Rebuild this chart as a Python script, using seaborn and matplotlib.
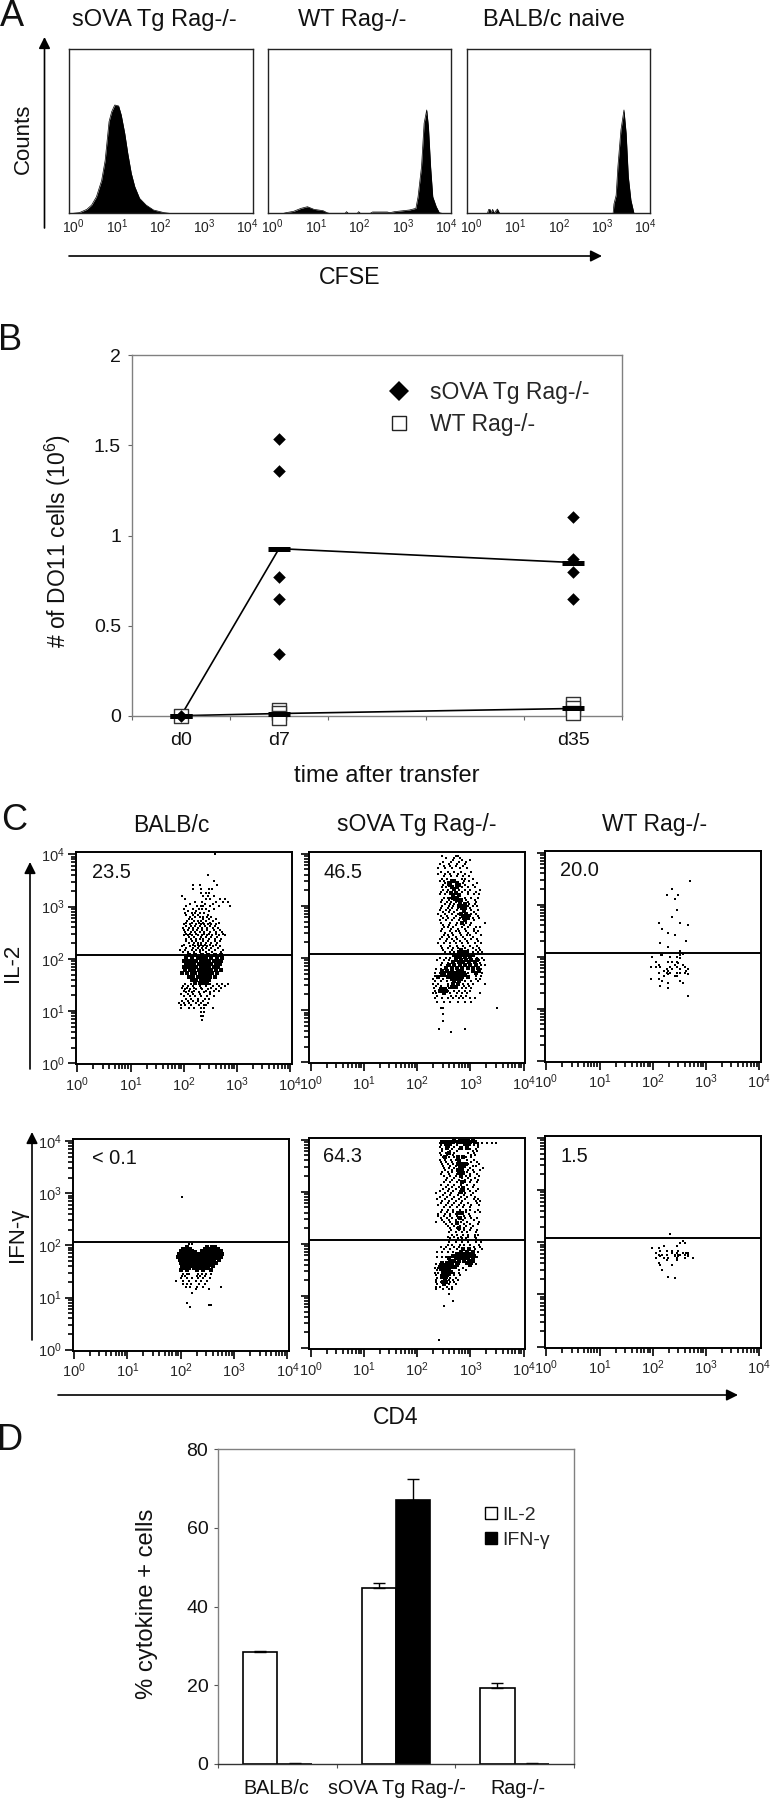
import numpy as np
import pandas as pd
import matplotlib
matplotlib.use("Agg")
import matplotlib.pyplot as plt
from matplotlib.lines import Line2D
from matplotlib.patches import Patch
from matplotlib.ticker import LogLocator, NullFormatter, FixedLocator
import seaborn as sns

sns.set_theme(style="white")
REG = ["Liberation Sans", "DejaVu Sans"]
plt.rcParams["font.family"] = REG
plt.rcParams["mathtext.default"] = "regular"

W, H = 776, 1800

# ---- A: CFSE histograms (log10 CFSE, fraction of the panel height)
a1_x = [0.0, 0.14, 0.31, 0.42, 0.53, 0.65, 0.73, 0.82, 0.88, 0.95, 1.04, 1.10, 1.18, 1.25, 1.33, 1.41, 1.52, 1.67, 1.84, 2.08, 2.2]
a1_y = [0.0, 0.004, 0.024, 0.05, 0.10, 0.20, 0.32, 0.557, 0.617, 0.658, 0.652, 0.597, 0.486, 0.364, 0.243, 0.162, 0.091, 0.05, 0.02, 0.004, 0.0]
a2_x = [0.25, 0.31, 0.48, 0.65, 0.80, 0.95, 1.16, 1.25, 1.30, 1.67, 1.70, 1.74, 1.95, 1.98, 2.02, 2.25, 2.30, 2.64, 2.70, 2.81, 3.15, 3.30, 3.35, 3.43, 3.49, 3.55, 3.59, 3.64, 3.69, 3.77, 3.84, 3.9]
a2_y = [0.0, 0.004, 0.012, 0.03, 0.04, 0.024, 0.016, 0.004, 0.0, 0.0, 0.01, 0.0, 0.0, 0.01, 0.0, 0.0, 0.008, 0.008, 0.004, 0.01, 0.02, 0.03, 0.10, 0.283, 0.547, 0.628, 0.526, 0.283, 0.10, 0.04, 0.004, 0.0]
a3_x = [0.36, 0.39, 0.42, 0.44, 0.48, 0.51, 0.59, 0.64, 3.25, 3.27, 3.32, 3.36, 3.43, 3.50, 3.55, 3.60, 3.66, 3.73]
a3_y = [0.0, 0.024, 0.024, 0.0, 0.024, 0.0, 0.026, 0.0, 0.0, 0.057, 0.11, 0.283, 0.506, 0.628, 0.486, 0.223, 0.08, 0.0]
a_titles = ["sOVA Tg Rag-/-", "WT Rag-/-", "BALB/c naive"]

# ---- B: number of DO11 cells
b_days = ["d0", "d7", "", "", "d35"]
b_sova_pos = [0, 1, 1, 1, 1, 1, 4, 4, 4, 4]
b_sova_val = [0.0, 1.536, 1.36, 0.77, 0.65, 0.34, 1.105, 0.868, 0.80, 0.645]
b_wt_pos = [0, 1, 1, 1, 4, 4, 4]
b_wt_val = [0.0, 0.03, 0.013, -0.01, 0.065, 0.04, 0.013]
b_mean_pos = [0, 1, 4]
b_sova_mean = [0.0, 0.927, 0.85]
b_wt_mean = [0.0, 0.012, 0.04]

# ---- C: dot plots, (log10 cytokine, [log10 CD4, ...]) rows
c1_dots = [(4.00,[2.59]),(3.60,[2.45]),(3.49,[2.56]),(3.41,[2.18,2.31,2.63]),(3.34,[2.18,2.33,2.47,2.53]),
 (3.27,[2.33,2.42,2.48]),(3.20,[1.97,2.36,2.46,2.57]),(3.14,[2.03,2.42,2.49,2.69,2.77]),(3.08,[2.22,2.35,2.60,2.73,2.83]),
 (3.02,[2.05,2.25,2.32,2.37,2.50,2.66,2.87]),(2.96,[2.01,2.17,2.28,2.35,2.42,2.56]),(2.88,[2.02,2.15,2.21,2.30,2.38]),
 (2.80,[2.12,2.22,2.30,2.36,2.44,2.52]),(2.73,[2.07,2.19,2.27,2.33,2.41,2.55]),(2.66,[2.00,2.11,2.23,2.32,2.38,2.46,2.52,2.61]),
 (2.59,[1.99,2.09,2.18,2.26,2.35,2.44,2.55,2.64]),(2.52,[2.03,2.13,2.21,2.30,2.38,2.50,2.60,2.72]),
 (2.45,[2.00,2.08,2.16,2.27,2.34,2.43,2.53,2.66,2.78]),(2.38,[2.04,2.14,2.23,2.30,2.37,2.48,2.58,2.70]),
 (2.31,[2.10,2.19,2.26,2.33,2.41,2.52,2.63]),(2.24,[1.97,2.12,2.21,2.29,2.36,2.44,2.55,2.68]),
 (2.17,[1.93,2.03,2.15,2.24,2.31,2.37,2.47,2.58,2.74]),(1.48,[1.98,2.08,2.18,2.30,2.42,2.55,2.66,2.78]),
 (1.42,[2.02,2.12,2.24,2.35,2.46,2.60]),(1.36,[2.05,2.15,2.28,2.38,2.50]),(1.28,[2.00,2.12,2.22,2.32,2.44,2.56]),
 (1.20,[1.97,2.08,2.18,2.27,2.36]),(1.12,[1.95,2.03,2.14,2.28,2.38,2.42]),(1.05,[1.95,2.10,2.20,2.33,2.38,2.55]),
 (0.98,[2.32,2.38]),(0.90,[2.33,2.36]),(0.83,[2.35]),
 (3.05,[2.12,2.40,2.55]),(2.92,[2.08,2.24,2.48]),(2.84,[2.05,2.18,2.26,2.46]),(2.76,[2.10,2.16,2.36,2.48,2.60]),
 (2.69,[2.05,2.15,2.28,2.36,2.50,2.66]),(2.62,[2.04,2.14,2.22,2.30,2.40,2.50,2.58]),(2.55,[2.00,2.08,2.17,2.25,2.34,2.44,2.56,2.68]),
 (2.48,[2.05,2.12,2.24,2.38,2.48,2.60,2.74]),(2.41,[2.09,2.20,2.32,2.41,2.52,2.62]),(2.34,[2.05,2.15,2.24,2.36,2.45,2.58,2.68]),
 (2.27,[2.00,2.17,2.26,2.32,2.40,2.50,2.60]),(2.20,[2.05,2.18,2.27,2.34,2.42,2.52,2.64]),(2.13,[1.98,2.08,2.20,2.30,2.42,2.54,2.70]),
 (1.51,[2.02,2.14,2.50,2.62,2.72,2.84]),(1.45,[1.96,2.06,2.20,2.32,2.52,2.70]),(1.39,[2.00,2.10,2.20,2.42,2.56,2.66]),
 (1.32,[1.94,2.08,2.18,2.30,2.50]),(1.24,[2.04,2.14,2.26,2.40,2.48]),(1.16,[1.92,2.00,2.10,2.24,2.32,2.46])]
c1_core = [(2.08,[2.10,2.22,2.34,2.46,2.58,2.70]),(2.02,[2.04,2.15,2.26,2.34,2.42,2.52,2.62,2.72]),
 (1.96,[2.00,2.08,2.16,2.24,2.32,2.40,2.48,2.56,2.64,2.70]),(1.90,[2.04,2.12,2.20,2.28,2.36,2.44,2.52,2.60,2.68]),
 (1.84,[2.00,2.08,2.16,2.24,2.32,2.40,2.48,2.56,2.64]),(1.78,[2.03,2.12,2.20,2.28,2.36,2.44,2.52,2.60,2.70]),
 (1.72,[1.97,2.06,2.15,2.22,2.30,2.38,2.46,2.54,2.62]),(1.66,[2.10,2.18,2.26,2.34,2.42,2.50,2.58]),
 (1.60,[2.16,2.24,2.32,2.40,2.48]),(1.54,[2.22,2.30,2.36,2.44])]

c2_dots = [(3.95,[2.47,2.72,2.76]),(3.88,[2.68,2.85,3.00]),(3.80,[2.42,2.60,2.74,2.90]),(3.73,[2.40,2.53,2.66,2.81,2.93]),
 (3.66,[2.44,2.58,2.70,2.83,3.02]),(3.58,[2.50,2.64,2.74,2.86,2.97]),(3.52,[2.46,2.56,2.84,2.90,3.05]),
 (3.44,[2.52,2.60,2.86,3.12]),(3.36,[2.46,2.55,2.84,2.96,3.08]),(3.30,[2.48,2.58,2.78,2.90,3.00,3.18]),
 (3.22,[2.42,2.52,2.80,2.95,3.06,3.16]),(3.16,[2.50,2.58,2.62,2.90,3.02,3.14]),(3.08,[2.44,2.56,2.64,2.72,2.96,3.10]),
 (3.00,[2.46,2.60,2.68,2.96,3.04,3.12]),(2.92,[2.42,2.54,2.62,2.74,3.02,3.14]),(2.84,[2.40,2.52,2.66,2.76,3.02,3.10]),
 (2.76,[2.48,2.58,2.70,2.80,3.04,3.16]),(2.68,[2.44,2.62,2.74,2.92,3.02,3.28]),(2.60,[2.50,2.58,2.68,2.84,2.96,3.10,3.18]),
 (2.52,[2.44,2.62,2.72,2.78,2.92,3.06,3.14]),(2.44,[2.50,2.58,2.68,2.82,2.94,3.00,3.20]),(2.36,[2.42,2.56,2.66,2.74,2.90,3.02,3.12]),
 (2.28,[2.40,2.50,2.62,2.72,2.84,2.96,3.08,3.20]),(2.20,[2.46,2.58,2.68,2.76,2.90,3.04,3.16]),
 (2.12,[2.52,2.62,2.70,2.94,3.04,3.14,3.22]),(1.96,[2.38,2.50,2.60,3.16,3.25]),(1.86,[2.44,2.56,3.20,3.28]),
 (1.72,[2.34,2.42,2.96,3.22]),(1.60,[2.30,2.48,3.10,3.18]),(1.50,[2.30,2.40,2.58,2.86,2.96,3.05,3.28]),
 (1.42,[2.32,2.60,2.84,2.92,3.02]),(1.32,[2.30,2.36,2.62,2.74,2.84,2.94,3.18]),(1.24,[2.34,2.46,2.58,2.68,2.78,2.86,3.00,3.08]),
 (1.16,[2.38,2.50,2.62,2.76,2.90,3.02]),(1.05,[2.44,2.48,3.50]),(0.92,[2.48]),(0.80,[2.48]),(0.64,[2.41,2.90]),(0.59,[2.64]),
 (3.91,[2.55,2.70,2.80]),(3.84,[2.48,2.64,2.78,2.92]),(3.76,[2.50,2.62,2.72,2.86]),(3.62,[2.40,2.52,2.62,2.76,2.90]),
 (3.48,[2.42,2.50,2.88,2.98]),(3.40,[2.48,2.58,2.90,3.04]),(3.26,[2.44,2.56,2.84,2.96,3.10]),(3.12,[2.46,2.60,2.70,2.92,3.08]),
 (3.04,[2.52,2.62,2.70,2.98,3.08]),(2.96,[2.44,2.58,2.66,2.76,3.00]),(2.88,[2.48,2.60,2.70,3.06]),(2.80,[2.44,2.56,2.72,3.00,3.14]),
 (2.72,[2.42,2.54,2.66,2.78,3.06]),(2.64,[2.48,2.60,2.72,2.88,3.00]),(2.56,[2.46,2.64,2.76,2.90,3.06]),(2.48,[2.52,2.66,2.80,2.96,3.10]),
 (2.40,[2.46,2.60,2.72,2.86,3.04]),(2.32,[2.54,2.70,2.80,2.94,3.14]),(2.24,[2.44,2.62,2.74,2.86,3.00,3.12]),(2.16,[2.48,2.66,2.96,3.10,3.18]),
 (2.08,[2.44,2.56,2.64,3.08,3.18]),(2.00,[2.42,2.54,2.62,3.12,3.22]),(1.90,[2.46,2.58,3.18]),(1.78,[2.36,2.44,3.20]),(1.66,[2.34,2.52,3.10,3.20]),
 (1.56,[2.34,2.44,2.56,2.90,3.02,3.14]),(1.46,[2.36,2.44,2.58,2.88,2.98]),(1.36,[2.34,2.58,2.70,2.78,2.90,3.00]),(1.28,[2.38,2.64,2.72,2.82,2.92])]
c2_core = [(3.47,[2.65,2.70]),(3.40,[2.62,2.78]),(3.33,[2.70]),(3.25,[2.63,2.72]),(3.15,[2.68,2.75]),(3.08,[2.80]),(3.00,[2.85,2.78]),
 (2.90,[2.88]),(2.84,[2.82,2.92]),(2.76,[2.88,2.95]),(2.68,[2.85]),(2.15,[2.83]),(2.08,[2.78,2.88]),(2.01,[2.72,2.80,2.90,3.00]),
 (1.92,[2.68,2.78,2.86,2.98,3.08]),(1.80,[2.55,2.66,2.75,2.84,2.95,3.05,3.15]),(1.72,[2.50,2.60,2.70,2.80,2.88,3.10]),
 (1.64,[2.40,2.58,2.68,2.76,2.84,2.95]),(1.55,[2.70,2.78]),(1.44,[2.66,2.72]),(1.37,[2.42,2.48,2.54]),(1.32,[2.50]),
 (3.44,[2.60,2.75]),(3.36,[2.66,2.74]),(3.20,[2.68,2.78]),(3.12,[2.74,2.82]),(3.04,[2.80,2.90]),(2.96,[2.84,2.90]),(2.80,[2.86,2.96]),(2.72,[2.90]),
 (2.12,[2.78,2.86,2.94]),(2.05,[2.70,2.84,2.94,3.04]),(1.96,[2.72,2.82,2.92,3.02,3.12]),(1.86,[2.60,2.70,2.80,2.90,3.00,3.10]),
 (1.76,[2.46,2.56,2.66,2.76,2.84,3.04,3.16]),(1.68,[2.46,2.64,2.72,2.80,2.90]),(1.60,[2.66,2.74,2.82]),(1.50,[2.68,2.76]),(1.41,[2.45,2.52])]

c3_x = [2.71,2.37,2.48,2.26,2.41,2.45,2.37,2.11,2.52,2.67,2.18,2.29,2.41,2.63,2.14,2.29,2.52,2.16,2.18,2.56,1.99,2.52,2.33,2.45,2.52,2.07,2.11,1.96,2.07,2.14,2.29,2.37,2.45,2.48,2.56,2.60,2.67,2.41,2.33,2.26,2.22,2.29,2.37,2.45,2.52,2.63,2.11,2.26,2.33,2.45,2.52,2.60,2.67,2.22,2.29,2.41,2.45,1.96,2.11,2.18,2.52,2.56,2.29,2.14,2.29,2.67]
c3_y = [3.46,3.30,3.18,3.18,3.11,2.89,2.76,2.65,2.65,2.61,2.54,2.46,2.42,2.31,2.27,2.19,2.11,2.04,2.04,2.06,2.00,2.04,2.00,2.00,1.98,1.89,1.85,1.81,1.81,1.81,1.89,1.89,1.89,1.87,1.85,1.81,1.77,1.85,1.81,1.77,1.73,1.73,1.77,1.81,1.77,1.73,1.69,1.69,1.69,1.69,1.69,1.69,1.66,1.62,1.66,1.62,1.62,1.58,1.58,1.54,1.54,1.50,1.50,1.43,1.39,1.24]

c4_dots = [(2.93,[2.03]),(2.03,[2.15,2.22]),(1.38,[2.00,2.12,2.22,2.32,2.42,2.55]),(1.32,[1.92,2.05,2.16,2.28,2.38,2.50]),
 (1.26,[2.04,2.12,2.20,2.34,2.46]),(1.20,[2.10,2.18,2.30,2.42,2.75]),(1.16,[2.29,2.53]),(1.09,[2.22]),(0.89,[2.12]),(0.85,[2.53,2.56]),(0.82,[2.18]),
 (1.46,[2.04,2.12,2.16,2.32,2.40,2.48,2.56]),(1.42,[2.02,2.08,2.30,2.36,2.46])]
c4_core = [(1.96,[2.12,2.50,2.58,2.65]),(1.90,[2.00,2.08,2.15,2.22,2.40,2.48,2.58,2.68,2.76]),(1.84,[1.96,2.04,2.12,2.20,2.28,2.36,2.44,2.52,2.60,2.70,2.78]),
 (1.78,[1.94,2.02,2.10,2.18,2.26,2.34,2.42,2.50,2.58,2.66,2.76]),(1.72,[1.98,2.06,2.14,2.22,2.30,2.38,2.46,2.54,2.62,2.72]),
 (1.66,[2.00,2.08,2.16,2.24,2.32,2.40,2.48,2.56,2.66]),(1.60,[2.02,2.10,2.18,2.26,2.34,2.44,2.52,2.60]),(1.52,[2.00,2.12,2.30,2.42,2.56]),
 (1.93,[2.04,2.10,2.18,2.46,2.54,2.62,2.70]),(1.87,[2.00,2.10,2.18,2.26,2.44,2.52,2.62,2.72]),(1.81,[1.98,2.06,2.14,2.22,2.30,2.38,2.46,2.54,2.64,2.74]),
 (1.75,[2.00,2.08,2.16,2.24,2.32,2.40,2.48,2.56,2.70]),(1.69,[2.02,2.10,2.18,2.26,2.34,2.42,2.50,2.58]),(1.63,[2.04,2.12,2.20,2.28,2.36,2.46,2.54]),(1.56,[2.06,2.16,2.24,2.38,2.50])]

c5_dots = [(3.94,[2.42,2.48,3.14,3.22,3.32,3.40,3.48]),(3.86,[2.42,2.60,2.70,3.14]),(3.78,[2.46,2.62,2.74,3.04,3.12]),(3.70,[2.44,2.56,2.68,3.02,3.08]),
 (3.62,[2.42,2.52,2.64,2.72,2.94,3.06]),(3.54,[2.46,2.58,2.68,2.96,3.16]),(3.46,[2.50,2.60,2.70,3.00,3.24]),(3.38,[2.46,2.58,2.66,2.94,3.06]),
 (3.30,[2.50,2.62,2.72,2.92,3.00,3.16]),(3.22,[2.54,2.66,2.78,2.90,3.02,3.14]),(3.14,[2.44,2.58,2.70,2.82,2.94,3.06]),(3.06,[2.48,2.60,2.72,2.82,2.96,3.14]),
 (2.98,[2.36,2.52,2.64,2.78,2.90,3.04]),(2.90,[2.42,2.56,2.70,2.82,2.94,3.08]),(2.82,[2.46,2.60,2.72,2.84,3.10,3.18]),(2.74,[2.40,2.54,2.66,2.78,2.88,3.02,3.16]),
 (2.66,[2.46,2.58,2.68,2.80,2.92,3.00,3.14]),(2.58,[2.40,2.52,2.62,2.72,2.86,2.98]),(2.50,[2.44,2.56,2.66,2.76,2.90,3.02,3.12]),(2.42,[2.36,2.50,2.62,2.82,2.94,3.16]),
 (2.34,[2.58,2.70,2.80,2.92,3.04]),(2.26,[2.64,2.78,2.88,3.00,3.12]),(2.18,[2.66,2.74,2.86,2.96,3.08,3.14]),(2.12,[2.62,2.76,2.84,2.92,3.10]),
 (1.98,[2.58,2.66,2.80,2.88,3.00,3.16]),(1.90,[2.50,2.62,2.74,2.84,2.96,3.08,3.22]),(1.50,[2.38,2.62,2.78,2.92]),(1.40,[2.36,2.44,2.62,2.70,2.80]),
 (1.30,[2.36,2.60,2.68,2.76]),(1.22,[2.38,2.60,2.72]),(1.14,[2.36,2.48,2.60,2.66]),(1.04,[2.59]),(0.91,[2.67]),(0.80,[2.51]),(0.15,[2.41]),
 (3.90,[2.44,2.52,2.74,3.06,3.14]),(3.82,[2.46,2.66,2.78,3.00,3.10]),(3.74,[2.42,2.54,2.70,2.96,3.06]),(3.66,[2.48,2.60,2.70,2.92,3.02]),
 (3.58,[2.44,2.54,2.66,3.02,3.12]),(3.50,[2.48,2.62,2.72,3.04,3.10]),(3.42,[2.52,2.66,2.96,3.04,3.18]),(3.34,[2.44,2.60,2.74,3.00,3.12]),
 (3.26,[2.56,2.70,2.84,2.96,3.08]),(3.18,[2.50,2.62,2.74,2.90,3.00,3.12]),(3.10,[2.54,2.66,2.78,2.88,3.04]),(3.02,[2.42,2.58,2.68,2.88,3.00,3.10]),
 (2.94,[2.48,2.62,2.76,2.88,3.02]),(2.86,[2.38,2.52,2.66,2.78,2.90,3.06,3.14]),(2.78,[2.44,2.58,2.70,2.82,2.96,3.12]),(2.70,[2.50,2.62,2.74,2.86,3.00]),
 (2.62,[2.44,2.56,2.68,2.78,2.92,3.08,3.18]),(2.54,[2.40,2.50,2.62,2.74,2.88,3.00]),(2.46,[2.46,2.60,2.72,2.86,3.06]),(2.38,[2.54,2.66,2.76,2.88,3.00,3.14]),
 (2.30,[2.62,2.74,2.88,3.02]),(2.22,[2.60,2.72,2.84,2.94,3.10]),(2.14,[2.58,2.70,2.82,2.96,3.08]),(2.04,[2.60,2.72,2.84,2.96,3.10,3.20]),
 (1.94,[2.44,2.54,2.70,2.78,3.06,3.18]),(1.84,[2.38,2.46,2.58,2.68,3.14]),(1.74,[2.38,2.46,2.54,3.12]),(1.62,[2.36,2.42,3.10]),
 (1.54,[2.34,2.40,2.72,2.86]),(1.44,[2.34,2.40,2.70,2.78]),(1.34,[2.38,2.62,2.72]),(1.26,[2.36,2.44,2.62,2.70]),(1.18,[2.36,2.42,2.56,2.66])]
c5_core = [(3.98,[2.70,2.80,2.88,2.96,3.04]),(3.92,[2.56,2.62,2.90,2.98]),(3.74,[2.60]),(3.60,[2.78]),(3.50,[2.80,2.88]),(3.42,[2.76,2.84]),(3.30,[2.82]),
 (3.08,[2.86]),(2.50,[2.80]),(2.40,[2.74]),(1.84,[2.82,2.94,3.04]),(1.76,[2.68,2.76,2.84,2.92,3.00,3.06]),(1.68,[2.62,2.70,2.78,2.88,2.98,3.04]),(1.60,[2.48,2.58,2.66,2.74,3.00]),
 (1.52,[2.44,2.52,2.60]),(1.40,[2.50,2.56]),(1.30,[2.52]),(1.22,[2.50]),
 (1.90,[2.86,2.98]),(1.80,[2.74,2.84,2.92,3.00]),(1.72,[2.60,2.72,2.80,2.88,2.96,3.04]),(1.64,[2.46,2.56,2.66,2.76,2.94,3.02]),(1.56,[2.42,2.50,2.60,2.68]),
 (1.46,[2.48,2.56,2.64]),(1.36,[2.46,2.54]),(1.26,[2.48,2.54]),(3.96,[2.46,2.54,2.60,2.68,2.76,2.84,2.92,3.00,3.08]),(3.84,[2.56,2.82,2.94]),
 (3.66,[2.52,2.76,2.86]),(3.54,[2.76,2.84,2.92]),(3.36,[2.78,2.86]),(3.18,[2.84]),(3.00,[2.82]),(2.60,[2.76,2.84]),(2.30,[2.78])]

c6_x = [2.33,2.56,2.52,2.60,1.99,2.22,2.11,2.14,2.26,2.37,2.45,2.48,2.45,2.07,2.11,2.18,2.26,2.37,2.41,2.48,2.56,2.63,2.67,2.07,2.14,2.22,2.29,2.41,2.48,2.60,2.67,2.75,2.45,2.60,2.11,2.14,2.26,2.37,2.18,2.29,2.41,2.45,2.52,2.67]
c6_y = [2.15,2.03,1.99,1.99,1.88,1.92,1.88,1.84,1.84,1.84,1.92,1.84,1.80,1.80,1.76,1.76,1.76,1.80,1.76,1.76,1.80,1.80,1.80,1.69,1.73,1.69,1.69,1.73,1.73,1.76,1.73,1.69,1.65,1.69,1.61,1.57,1.65,1.57,1.46,1.34,1.31,1.69,1.76,1.76]

c_gate = 118
c_pct = ["23.5", "46.5", "20.0", "< 0.1", "64.3", "1.5"]
c_titles = ["BALB/c", "sOVA Tg Rag-/-", "WT Rag-/-"]

# ---- D: cytokine positive cells
d_groups = ["BALB/c", "sOVA Tg Rag-/-", "Rag-/-"]
d_il2 = [28.4, 44.8, 19.4]
d_il2_err = [0.3, 1.2, 1.1]
d_ifn = [0.1, 67.1, 0.1]
d_ifn_err = [0.1, 5.2, 0.1]


fig = plt.figure(figsize=(W / 100, H / 100), dpi=100, facecolor="white")


def add_ax(x0, y0, x1, y1, **kw):
    return fig.add_axes([x0 / W, 1 - y1 / H, (x1 - x0) / W, (y1 - y0) / H], **kw)


ov = add_ax(0, 0, W, H, zorder=50)
ov.set_xlim(0, W)
ov.set_ylim(H, 0)
ov.axis("off")
ov.patch.set_alpha(0)


def label(x, y, s, size, rot=0, ha="center", va="center"):
    ov.text(x, y, s, fontsize=size, rotation=rot, ha=ha, va=va, color="#111111")


def arrow(x0, y0, x1, y1, ms=17):
    ov.annotate("", xy=(x1, y1), xytext=(x0, y0),
                arrowprops=dict(arrowstyle="-|>", color="black", lw=1.2, mutation_scale=ms, shrinkA=0, shrinkB=0))


def log_label(e):
    return r"$\mathregular{10^{%d}}$" % e


# ---- Panel A
a_boxes = [(68.5, 48.7, 252.5, 213.3), (268, 48.7, 451, 213.3), (467, 48.7, 650.5, 213.3)]
a_curves = [(a1_x, a1_y), (a2_x, a2_y), (a3_x, a3_y)]
a_title_x = [154, 352, 554]
for box, (xs, ys), tx, title in zip(a_boxes, a_curves, a_title_x, a_titles):
    ax = add_ax(*box)
    sns.lineplot(x=xs, y=ys, ax=ax, color="black", lw=0.5, sort=False, estimator=None)
    ax.fill_between(xs, ys, 0, color="black", lw=0)
    ax.set_xlim(-0.11, 4.11)
    ax.set_ylim(0, 1)
    ax.set_yticks([])
    ax.set_xticks(range(5))
    ax.set_xticklabels([log_label(i) for i in range(5)], fontsize=10)
    ax.tick_params(axis="x", length=0, pad=3, colors="#222222")
    ax.set_xlabel("")
    for s in ax.spines.values():
        s.set_color("#222222")
        s.set_linewidth(1.0)
    label(tx, 20, title, 17)
label(0, 17, "A", 26, ha="left")
label(23.3, 139, "Counts", 16, rot=90)
label(350, 277, "CFSE", 16.7)
arrow(44.5, 228, 44.5, 37)
arrow(69, 256, 602, 256)

# ---- Panel B
axb = add_ax(132, 355.3, 622, 715.7)
sova = pd.DataFrame({"pos": b_sova_pos, "val": b_sova_val})
wt = pd.DataFrame({"pos": b_wt_pos, "val": b_wt_val})
sns.lineplot(x=b_mean_pos, y=b_sova_mean, ax=axb, color="black", lw=1.2)
sns.lineplot(x=b_mean_pos, y=b_wt_mean, ax=axb, color="black", lw=1.2)
sns.scatterplot(data=wt, x="pos", y="val", ax=axb, marker="s", s=90, facecolor="white",
                edgecolor="#333333", linewidth=1.0, clip_on=False, zorder=3)
sns.scatterplot(data=sova, x="pos", y="val", ax=axb, marker="D", s=41, color="black",
                linewidth=0, clip_on=False, zorder=4)
for means in (b_sova_mean, b_wt_mean):
    sns.scatterplot(x=b_mean_pos, y=means, ax=axb, marker="_", s=256, color="black",
                    linewidth=3.6, clip_on=False, zorder=5)
axb.set_xlim(-0.5, 4.5)
axb.set_ylim(0, 2)
axb.set_xticks(np.arange(-0.5, 5, 1))
axb.set_xticklabels([])
axb.set_yticks([0, 0.5, 1, 1.5, 2])
axb.set_yticklabels(["0", "0.5", "1", "1.5", "2"], fontsize=14)
axb.tick_params(axis="both", length=3, width=0.8, color="#666666", labelcolor="#111111", left=True, bottom=True, pad=5)
axb.set_xlabel("")
axb.set_ylabel("")
for s in axb.spines.values():
    s.set_color("#808080")
    s.set_linewidth(1.0)
for pos, day in enumerate(b_days):
    if day:
        axb.text(pos, -0.137, day, fontsize=14, ha="center", va="center", color="#111111")
axb.legend(handles=[Line2D([], [], ls="", marker="D", ms=10.5, color="black", mew=0),
                    Line2D([], [], ls="", marker="s", ms=10.5, mfc="white", mec="#222222", mew=1.0)],
           labels=["sOVA Tg Rag-/-", "WT Rag-/-"], frameon=False, loc="upper left",
           bbox_to_anchor=(387.5 / W, 1 - 381 / H), bbox_transform=fig.transFigure, borderpad=0, borderaxespad=0,
           handlelength=1.0, handletextpad=0.87, labelspacing=0.4, prop={"size": 16.5})
label(-2, 340, "B", 26, ha="left")
label(57.5, 541, r"# of DO11 cells (10$^{6}$)", 16.5, rot=90)
label(387, 776, "time after transfer", 17)

# ---- Panel C
c_boxes = [(76, 852.3, 291.7, 1064.3), (309.3, 851.7, 525.3, 1063.3), (545, 850.7, 760.7, 1061.7),
           (72.7, 1139, 289, 1350.7), (309.3, 1137.7, 525.3, 1349), (545, 1135.7, 760.7, 1347.7)]
c_pct_xy = [(92, 872), (323, 872), (560, 871), (92, 1158), (323, 1157), (561, 1157)]


def rows_df(rows):
    return pd.DataFrame([(10 ** x, 10 ** y) for y, xs in rows for x in xs], columns=["cd4", "cyt"])


def pairs_df(xs, ys):
    return pd.DataFrame({"cd4": np.power(10.0, xs), "cyt": np.power(10.0, ys)})


c_data = [(rows_df(c1_dots), rows_df(c1_core)), (rows_df(c2_dots), rows_df(c2_core)), (pairs_df(c3_x, c3_y), None),
          (rows_df(c4_dots), rows_df(c4_core)), (rows_df(c5_dots), rows_df(c5_core)), (pairs_df(c6_x, c6_y), None)]

for box, (dots, core), pct, (px, py) in zip(c_boxes, c_data, c_pct, c_pct_xy):
    ax = add_ax(*box)
    ax.set_xscale("log")
    ax.set_yscale("log")
    sns.scatterplot(data=dots, x="cd4", y="cyt", ax=ax, marker="s", s=1.8, color="black", linewidth=0)
    if core is not None:
        sns.scatterplot(data=core, x="cd4", y="cyt", ax=ax, marker="s", s=6, color="black", linewidth=0)
    ax.axhline(c_gate, color="black", lw=1.4)
    ax.set_xlim(10 ** -0.025, 10 ** 4.03)
    ax.set_ylim(10 ** -0.02, 10 ** 4.04)
    ax.set_xlabel("")
    ax.set_ylabel("")
    ax.xaxis.set_major_locator(FixedLocator([1, 10, 100, 1000, 10000]))
    ax.yaxis.set_major_locator(FixedLocator([1, 10, 100, 1000, 10000]))
    for axis in (ax.xaxis, ax.yaxis):
        axis.set_minor_locator(LogLocator(base=10, subs=range(2, 10), numticks=12))
        axis.set_minor_formatter(NullFormatter())
    ax.tick_params(which="major", length=6, width=1.2, left=True, bottom=True, color="black", pad=2)
    ax.tick_params(which="minor", length=3.5, width=1.2, left=True, bottom=True, color="black")
    ax.set_xticklabels([log_label(i) for i in range(5)], fontsize=10.5)
    if box[0] < 100:
        ax.set_yticklabels([log_label(i) for i in range(5)], fontsize=10.5)
    else:
        ax.set_yticklabels([])
    for s in ax.spines.values():
        s.set_color("black")
        s.set_linewidth(1.4)
    label(px, py, pct, 14.4, ha="left")

for tx, title in zip([171, 417, 654.5], c_titles):
    label(tx, 825, title, 16.5)
label(1, 821, "C", 26, ha="left")
label(13, 963, "IL-2", 16, rot=90)
label(17, 1235, "IFN-γ", 16, rot=90)
label(396, 1417, "CD4", 16.5)
arrow(30, 1069, 30, 862)
arrow(32, 1340, 32, 1132)
arrow(58, 1395, 738, 1395)

# ---- Panel D
axd = add_ax(218, 1449, 574, 1764)
d_df = pd.DataFrame({"group": d_groups * 2, "val": d_il2 + d_ifn, "cyt": ["IL-2"] * 3 + ["IFN-γ"] * 3})
sns.barplot(data=d_df, x="group", y="val", hue="cyt", ax=axd, palette=["white", "black"], edgecolor="black",
            linewidth=1.2, width=0.58, gap=0, dodge=True, legend=False, errorbar=None, saturation=1)
d_err = d_il2_err + d_ifn_err
for p, e in zip(list(axd.patches), d_err):
    cx = p.get_x() + p.get_width() / 2
    axd.errorbar(cx, p.get_height(), yerr=[[0], [e]], color="black", lw=1.0, capsize=4.2, capthick=1.0)
axd.set_xlim(-0.5, 2.5)
axd.set_ylim(0, 80)
axd.set_yticks([0, 20, 40, 60, 80])
axd.set_yticklabels(["0", "20", "40", "60", "80"], fontsize=14)
axd.set_xticks(np.arange(-0.5, 3, 1))
axd.set_xticklabels([])
axd.tick_params(axis="both", length=3, width=0.8, color="#555555", labelcolor="#111111", left=True, bottom=True, pad=4)
axd.set_xlabel("")
axd.set_ylabel("")
for s in axd.spines.values():
    s.set_color("#808080")
    s.set_linewidth(1.0)
axd.spines["bottom"].set_color("#333333")
for pos, g in zip([276.6, 396.5, 517.5], d_groups):
    label(pos, 1789, g, 14.2)
axd.legend(handles=[Patch(facecolor="white", edgecolor="black", lw=1.0), Patch(facecolor="black", edgecolor="black")],
           labels=["IL-2", "IFN-γ"], frameon=False, loc="upper left",
           bbox_to_anchor=(485 / W, 1 - 1507 / H), bbox_transform=fig.transFigure, borderpad=0, borderaxespad=0,
           handlelength=0.6, handleheight=0.55, handletextpad=0.3, labelspacing=0.42, prop={"size": 14})
label(-3, 1441, "D", 26, ha="left")
label(147.3, 1604, "% cytokine + cells", 17.2, rot=90)

fig.savefig("out.png", dpi=100, facecolor="white")
